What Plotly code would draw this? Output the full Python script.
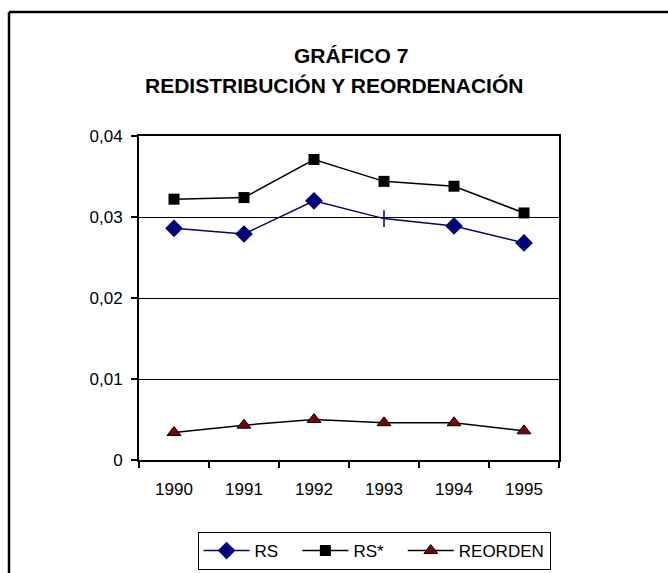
import plotly.graph_objects as go

years = ["1990", "1991", "1992", "1993", "1994", "1995"]
rs = [0.0286, 0.0279, 0.0320, 0.0298, 0.0289, 0.0268]
rs_star = [0.0322, 0.0324, 0.0371, 0.0344, 0.0338, 0.0305]
reorden = [0.0034, 0.0043, 0.0050, 0.0046, 0.0046, 0.0036]
y_tickvals = [0, 0.01, 0.02, 0.03, 0.04]
y_ticktext = ["0", "0,01", "0,02", "0,03", "0,04"]

FONT = "Liberation Sans, Arial, sans-serif"
rs_symbols = ["diamond", "diamond", "diamond", "line-ns", "diamond", "diamond"]
PAD = "\u00a0\u00a0\u00a0"

fig = go.Figure()
fig.add_trace(go.Scatter(
    x=years, y=rs, name="RS" + PAD, mode="lines+markers",
    line=dict(color="#000080", width=1.5),
    marker=dict(symbol=rs_symbols, size=12, color="#000080",
                line=dict(color="#000080", width=1.5)),
))
fig.add_trace(go.Scatter(
    x=years, y=rs_star, name="RS*" + PAD, mode="lines+markers",
    line=dict(color="black", width=1.5),
    marker=dict(symbol="square", size=11, color="black"),
))
fig.add_trace(go.Scatter(
    x=years, y=reorden, name="REORDEN", mode="lines+markers",
    line=dict(color="black", width=1.5),
    marker=dict(symbol="triangle-up", size=12, color="#800000",
                line=dict(color="black", width=1)),
))

fig.update_layout(
    width=668, height=573,
    margin=dict(l=139, r=109, t=136, b=113),
    paper_bgcolor="white", plot_bgcolor="white",
    font=dict(family=FONT, size=17, color="black"),
    showlegend=True,
    legend=dict(
        orientation="h", xref="container", yref="container",
        x=0.56, y=0.0384, xanchor="center", yanchor="middle",
        bordercolor="black", borderwidth=1, bgcolor="white",
        font=dict(family=FONT, size=17, color="black"),
        itemwidth=46, tracegroupgap=0,
    ),
    xaxis=dict(
        type="category", range=[-0.5, 5.5],
        showline=True, linecolor="black", linewidth=2, mirror=True,
        showgrid=False, ticks="outside", ticklen=6, tickwidth=1.5,
        tickcolor="black", tickson="boundaries", ticklabelstandoff=13,
        tickfont=dict(family=FONT, size=17),
    ),
    yaxis=dict(
        range=[0, 0.04], tickvals=y_tickvals, ticktext=y_ticktext,
        showline=True, linecolor="black", linewidth=2, mirror=True,
        showgrid=True, gridcolor="black", gridwidth=1,
        ticks="outside", ticklen=6, tickwidth=1.5, tickcolor="black",
        ticklabelstandoff=5,
        tickfont=dict(family=FONT, size=17), zeroline=False,
    ),
    annotations=[
        dict(text="<b>GRÁFICO 7</b>", xref="paper", yref="paper",
             x=0.505, y=1.247, xanchor="center", yanchor="middle",
             showarrow=False, font=dict(family=FONT, size=21, color="black")),
        dict(text="<b>REDISTRIBUCIÓN Y REORDENACIÓN</b>", xref="paper", yref="paper",
             x=0.464, y=1.157, xanchor="center", yanchor="middle",
             showarrow=False, font=dict(family=FONT, size=21, color="black")),
    ],
    shapes=[
        dict(type="line", xref="paper", yref="paper",
             x0=-0.3095, y0=1.383, x1=1.5, y1=1.383,
             line=dict(color="black", width=2.5), layer="below"),
        dict(type="line", xref="paper", yref="paper",
             x0=-0.3095, y0=-0.6, x1=-0.3095, y1=1.383,
             line=dict(color="black", width=2.5), layer="below"),
    ],
)

fig.write_html(
    "out.html",
    config={"displayModeBar": False},
    post_script="document.body.style.margin='0';document.body.style.overflow='hidden';",
)
